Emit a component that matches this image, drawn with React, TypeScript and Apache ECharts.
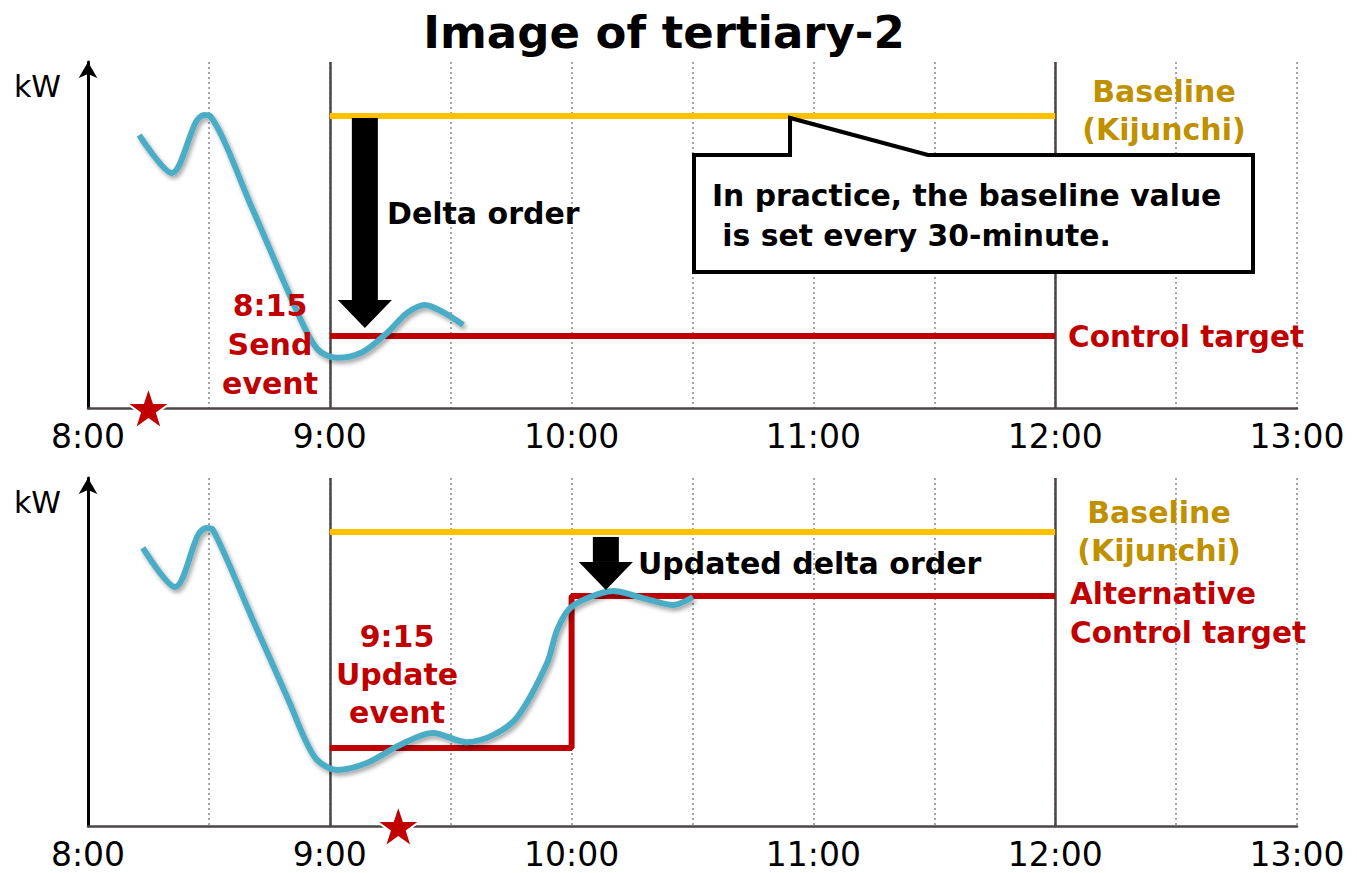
import React, { useEffect, useRef } from "react";
import * as echarts from "echarts";

// time in minutes since 0:00; load in arbitrary kW units (0-100)
const X_MIN = 480;
const X_MAX = 780;
const X_STEP = 30;
const SOLID_TIMES = [540, 720];

const topLoad: number[][] = [
  [492.7, 78.9], [500.8, 67.9], [506.8, 82.7], [508.8, 84.7], [510.3, 84.4],
  [520.7, 57.8], [532.6, 26.0], [537.1, 16.8], [541.8, 14.5], [548.2, 16.2],
  [554.2, 21.7], [559.2, 27.5], [563.6, 29.8], [568.1, 27.7], [573.1, 24.0],
];
const bottomLoad: number[][] = [
  [493.6, 79.9], [501.6, 68.7], [507.3, 83.6], [509.3, 85.6], [511.0, 85.1],
  [520.9, 59.2], [530.0, 35.5], [533.6, 25.5], [536.8, 19.0], [541.8, 16.1], [549.2, 18.1],
  [557.4, 23.3], [565.6, 26.7], [574.0, 24.1], [580.5, 26.1], [586.5, 31.3],
  [593.9, 46.8], [596.4, 56.3], [599.6, 62.6], [604.6, 65.8], [610.3, 67.5],
  [617.7, 65.5], [625.2, 63.5], [630.1, 65.8],
];
const topBaseline: number[][] = [[540, 84.4], [720, 84.4]];
const topTarget: number[][] = [[540, 20.8], [720, 20.8]];
const bottomBaseline: number[][] = [[540, 84.5], [720, 84.5]];
const bottomTarget: number[][] = [[540, 22.4], [600, 22.4], [600, 66.1], [720, 66.1]];
const topEvent: number[][] = [[495, 0]];
const bottomEvent: number[][] = [[557, 0]];
const topArrowTime = 548.7;
const bottomArrowTime = 608.5;
const calloutTime = 654.2;

const STAR =
  "path://M50,0 L61.8,35.1 L98.9,35.1 L69,57.3 L80.3,92.7 L50,71 L19.7,92.7 L31,57.3 L1.1,35.1 L38.2,35.1 Z";

const BLUE = "#4BACC6";
const YELLOW = "#FFC000";
const RED = "#C00000";
const GOLD = "#BF9000";
const AXIS = "#4d4646";

function xAxisFor(gridIndex: number) {
  return {
    type: "value",
    gridIndex,
    min: X_MIN,
    max: X_MAX,
    interval: X_STEP,
    axisLine: { show: true, lineStyle: { color: AXIS, width: 2.5 } },
    axisTick: { show: false },
    axisLabel: {
      show: true,
      margin: 12,
      fontSize: 33,
      fontFamily: "DejaVu Sans",
      color: "#000",
      showMinLabel: true,
      showMaxLabel: true,
      formatter: (v: number) => (v % 60 === 0 ? `${Math.floor(v / 60)}:00` : ""),
    },
    splitLine: {
      show: true,
      lineStyle: { color: "#A6A6A6", width: 2, type: [2, 3] },
    },
  };
}

function yAxisFor(gridIndex: number) {
  return {
    type: "value",
    gridIndex,
    min: 0,
    max: 100,
    axisLine: {
      show: true,
      symbol: ["none", "arrow"],
      symbolSize: [14, 16],
      lineStyle: { color: "#000", width: 3 },
    },
    axisTick: { show: false },
    axisLabel: { show: false },
    splitLine: { show: false },
  };
}

function loadSeries(idx: number, data: number[][]) {
  return {
    type: "line",
    xAxisIndex: idx,
    yAxisIndex: idx,
    data,
    smooth: 0.3,
    showSymbol: false,
    z: 4,
    lineStyle: {
      color: BLUE,
      width: 6,
      shadowColor: "rgba(0,0,0,0.35)",
      shadowBlur: 4,
      shadowOffsetX: 2,
      shadowOffsetY: 3,
    },
  };
}

function flatSeries(idx: number, data: number[][], color: string, marks: boolean) {
  return {
    type: "line",
    xAxisIndex: idx,
    yAxisIndex: idx,
    data,
    showSymbol: false,
    z: 3,
    lineStyle: { color, width: 6 },
    markLine: marks
      ? {
          silent: true,
          symbol: "none",
          label: { show: false },
          lineStyle: { color: AXIS, width: 2.5, type: "solid" },
          data: SOLID_TIMES.map((t) => ({ xAxis: t })),
          z: 1,
        }
      : undefined,
  };
}

function starSeries(idx: number, data: number[][]) {
  return {
    type: "scatter",
    xAxisIndex: idx,
    yAxisIndex: idx,
    data,
    symbol: STAR,
    symbolSize: [44, 42],
    clip: false,
    z: 6,
    itemStyle: { color: RED, borderColor: "#fff", borderWidth: 2, opacity: 1 },
  };
}

function txt(text: string, x: number, y: number, o: any = {}) {
  return {
    type: "text",
    x,
    y,
    z: 50,
    style: {
      text,
      fill: o.fill || "#000",
      fontSize: o.size || 28,
      fontWeight: o.weight || "bold",
      fontFamily: o.family || "DejaVu Sans",
      align: o.align || "left",
      verticalAlign: "middle",
      lineHeight: o.lh || undefined,
    },
  };
}

export default function App() {
  const ref = useRef<HTMLDivElement>(null);
  useEffect(() => {
    if (!ref.current) return;
    const chart = echarts.init(ref.current, undefined, { renderer: "svg" });
    chart.setOption({
      animation: false,
      backgroundColor: "#fff",
      grid: [
        { left: 88, right: 60, top: 62, height: 346 },
        { left: 88, right: 60, top: 478, height: 348 },
      ],
      xAxis: [xAxisFor(0), xAxisFor(1)],
      yAxis: [yAxisFor(0), yAxisFor(1)],
      series: [
        flatSeries(0, topBaseline, YELLOW, true),
        flatSeries(0, topTarget, RED, false),
        loadSeries(0, topLoad),
        starSeries(0, topEvent),
        flatSeries(1, bottomBaseline, YELLOW, true),
        flatSeries(1, bottomTarget, RED, false),
        loadSeries(1, bottomLoad),
        starSeries(1, bottomEvent),
      ],
    });

    const px = (i: number, t: number, v: number) =>
      chart.convertToPixel({ xAxisIndex: i, yAxisIndex: i }, [t, v]) as number[];

    // top delta arrow
    const aTop = px(0, topArrowTime, topBaseline[0][1]);
    const aTip = px(0, topArrowTime, topTarget[0][1]);
    const tipY = aTip[1] - 8;
    const headY = tipY - 28;
    // bottom arrow
    const bTop = px(1, bottomArrowTime, bottomBaseline[0][1]);
    const bTip = px(1, bottomArrowTime, bottomTarget[3][1]);
    const bTipY = bTip[1] - 6;
    const bHeadY = bTipY - 28;
    // callout
    const c = px(0, calloutTime, topBaseline[0][1]);
    const cx = c[0];
    const boxTop = 155;
    const boxBottom = 272;

    const graphic: any[] = [
      txt("Image of tertiary-2", 664, 32, { size: 45, align: "center" }),
      txt("kW", 14, 86, { size: 30, weight: "normal" }),
      txt("kW", 14, 502, { size: 30, weight: "normal" }),
      {
        type: "rect",
        z: 40,
        shape: { x: aTop[0] - 13, y: aTop[1] + 2, width: 26, height: headY - aTop[1] - 2 },
        style: { fill: "#000" },
      },
      {
        type: "polygon",
        z: 40,
        shape: { points: [[aTop[0] - 27, headY], [aTop[0] + 27, headY], [aTop[0], tipY]] },
        style: { fill: "#000" },
      },
      {
        type: "rect",
        z: 40,
        shape: { x: bTop[0] - 13, y: bTop[1] + 5, width: 26, height: bHeadY - bTop[1] - 5 },
        style: { fill: "#000" },
      },
      {
        type: "polygon",
        z: 40,
        shape: { points: [[bTop[0] - 27, bHeadY], [bTop[0] + 27, bHeadY], [bTop[0], bTipY]] },
        style: { fill: "#000" },
      },
      {
        type: "polygon",
        z: 45,
        shape: {
          points: [
            [694, boxTop], [cx, boxTop], [cx, c[1] + 2], [928, boxTop],
            [1253, boxTop], [1253, boxBottom], [694, boxBottom],
          ],
        },
        style: { fill: "#fff", stroke: "#000", lineWidth: 4, lineJoin: "miter" },
      },
      txt("In practice, the baseline value\n is set every 30-minute.", 712, 215, {
        size: 29.8,
        lh: 40,
      }),
      txt("Delta order", 387, 213, { size: 30 }),
      txt("8:15\nSend\nevent", 270, 344, { size: 30, fill: RED, align: "center", lh: 39 }),
      txt("Baseline\n(Kijunchi)", 1164, 110, { size: 30, fill: GOLD, align: "center", lh: 38 }),
      txt("Control target", 1068, 337, { size: 29.5, fill: RED }),
      txt("Updated delta order", 638, 563, { size: 30 }),
      txt("9:15\nUpdate\nevent", 397, 674, { size: 30, fill: RED, align: "center", lh: 38 }),
      txt("Baseline\n(Kijunchi)", 1159, 531, { size: 30, fill: GOLD, align: "center", lh: 38 }),
      txt("Alternative\nControl target", 1070, 613, { size: 29.5, fill: RED, lh: 39 }),
    ];
    chart.setOption({ graphic });

    return () => chart.dispose();
  }, []);
  return (
    <div
      ref={ref}
      style={{ position: "fixed", left: 0, top: 0, width: 1357, height: 873, background: "#fff" }}
    />
  );
}
